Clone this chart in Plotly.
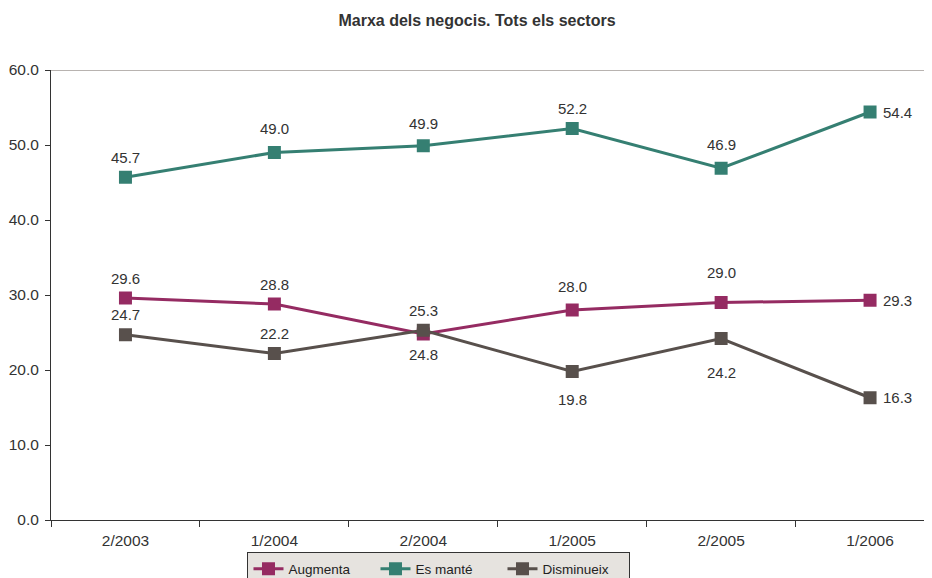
import plotly.graph_objects as go

periods = ["2/2003", "1/2004", "2/2004", "1/2005", "2/2005", "1/2006"]
augmenta = [29.6, 28.8, 24.8, 28.0, 29.0, 29.3]
es_mante = [45.7, 49.0, 49.9, 52.2, 46.9, 54.4]
disminueix = [24.7, 22.2, 25.3, 19.8, 24.2, 16.3]

# series: name, values, colour, label placement per point ("u"=above, "d"=below, "r"=right, with pixel offset)
series = [
    ("Augmenta", augmenta, "#952b62", [("u", 20), ("u", 20), ("d", 20), ("u", 24), ("u", 30), ("r", 0)]),
    ("Es manté", es_mante, "#357f72", [("u", 20), ("u", 24), ("u", 22), ("u", 20), ("u", 24), ("r", 0)]),
    ("Disminueix", disminueix, "#58504c", [("u", 20), ("u", 20), ("u", 20), ("d", 28), ("d", 34), ("r", 0)]),
]

FONT = "Liberation Sans, Arial, sans-serif"
xs = list(range(len(periods)))
fig = go.Figure()
annotations = []
for name, vals, color, pos in series:
    fig.add_trace(go.Scatter(
        x=xs, y=vals, name=name, mode="lines+markers",
        line=dict(color=color, width=3),
        marker=dict(symbol="square", size=13, color=color),
    ))
    for x, v, (p, off) in zip(xs, vals, pos):
        a = dict(x=x, y=v, xref="x", yref="y", text=f"{v:.1f}", showarrow=False,
                 font=dict(family=FONT, size=15, color="#333333"))
        if p == "u":
            a["yshift"] = off
        elif p == "d":
            a["yshift"] = -off
        else:
            a["xshift"] = 27
        annotations.append(a)

# invisible trace on second x axis to draw category boundary ticks
fig.add_trace(go.Scatter(x=[-0.5, 5.5], y=[None, None], xaxis="x2", showlegend=False, hoverinfo="skip"))

# the page body adds an 8px offset, so the figure is sized to the visible area
fig.update_layout(
    width=924, height=570,
    margin=dict(l=43, r=0, t=62, b=58, autoexpand=False),
    paper_bgcolor="white", plot_bgcolor="white",
    font=dict(family=FONT, size=15, color="#333333"),
    title=dict(text="<b>Marxa dels negocis. Tots els sectors</b>", x=0.5076, xanchor="center",
               y=0.979, yanchor="middle", yref="container", font=dict(family=FONT, size=16, color="#333333")),
    showlegend=True,
    legend=dict(orientation="h", x=0.4404, xanchor="center", y=-0.072, yanchor="top",
                bgcolor="#e6e3df", bordercolor="#333333", borderwidth=1,
                font=dict(family=FONT, size=13.5, color="#222222"), itemwidth=30,
                entrywidth=82),
    xaxis=dict(range=[-0.5, 5.416], tickvals=xs, ticktext=periods, ticks="",
               showgrid=False, zeroline=False, showline=True, linecolor="#333333",
               linewidth=1, automargin=False, ticklabelstandoff=6,
               tickfont=dict(family=FONT, size=15.5, color="#333333")),
    xaxis2=dict(range=[-0.5, 5.416], overlaying="x", side="bottom", anchor="y",
                tickvals=[-0.5, 0.5, 1.5, 2.5, 3.5, 4.5], showticklabels=False,
                ticks="outside", ticklen=6, tickcolor="#333333", showgrid=False,
                zeroline=False, showline=False, automargin=False),
    yaxis=dict(range=[0, 60], dtick=10, tickformat=".1f", ticks="outside", ticklen=5,
               tickcolor="#333333", showgrid=False, zeroline=False, showline=True,
               linecolor="#333333", linewidth=1, automargin=False, ticklabelstandoff=3,
               tickfont=dict(family=FONT, size=15.5, color="#333333")),
    annotations=annotations,
    shapes=[dict(type="line", xref="paper", yref="y", x0=0, x1=1, y0=60, y1=60,
                 line=dict(color="#a09a96", width=1.5))],
)

fig.write_html("out.html")
